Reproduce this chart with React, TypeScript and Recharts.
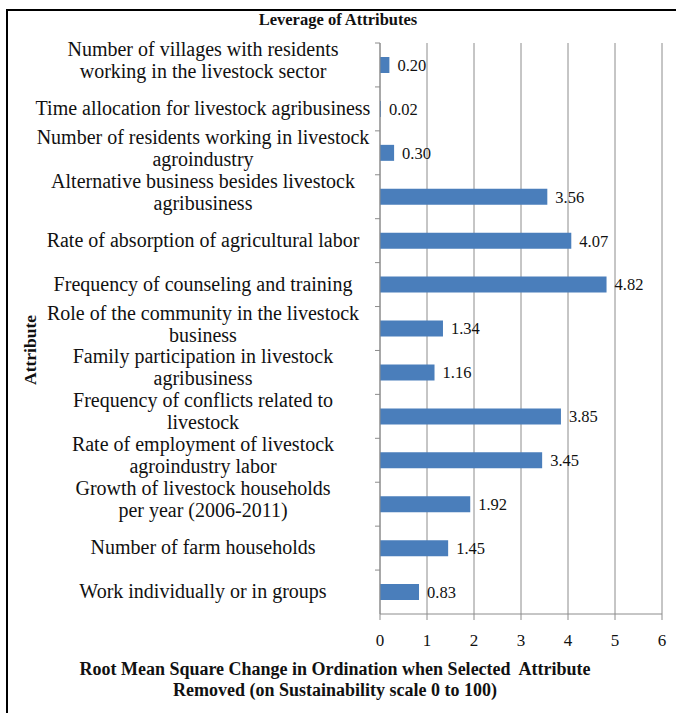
import { BarChart, Bar, XAxis, YAxis, CartesianGrid, LabelList } from "recharts";

// attribute names, "\n" marks where the original label wraps
const attributes = [
  "Number of villages with residents\nworking in the livestock sector",
  "Time allocation for livestock agribusiness",
  "Number of residents working in livestock\nagroindustry",
  "Alternative business besides livestock\nagribusiness",
  "Rate of absorption of agricultural labor",
  "Frequency of counseling and training",
  "Role of the community in the livestock\nbusiness",
  "Family participation in livestock\nagribusiness",
  "Frequency of conflicts related to\nlivestock",
  "Rate of employment of livestock\nagroindustry labor",
  "Growth of livestock households\nper year (2006-2011)",
  "Number of farm households",
  "Work individually or in groups",
];

const rmsChange = [0.2, 0.02, 0.3, 3.56, 4.07, 4.82, 1.34, 1.16, 3.85, 3.45, 1.92, 1.45, 0.83];

const xTicks = [0, 1, 2, 3, 4, 5, 6];

const data = attributes.map((name, i) => ({ name, value: rmsChange[i] }));

const SERIF = '"Liberation Serif", "Times New Roman", serif';
const GRID = "#8c8c8c";
const AXIS_X = 380;

function AttributeTick(props: any) {
  const { y, payload } = props;
  const lines: string[] = String(payload.value).split("\n");
  const half = payload.offset || 22;
  const lineH = 22;
  const startY = y - ((lines.length - 1) * lineH) / 2 + 6 - (lines.length > 1 ? 4 : 0);
  return (
    <g>
      <line x1={AXIS_X} x2={AXIS_X - 5} y1={y - half} y2={y - half} stroke={GRID} />
      <text
        x={203}
        y={startY}
        textAnchor="middle"
        style={{ fontFamily: SERIF, fontSize: 20, fill: "#111" }}
      >
        {lines.map((l, i) => (
          <tspan key={i} x={203} y={startY + i * lineH}>
            {l}
          </tspan>
        ))}
      </text>
    </g>
  );
}

export default function App() {
  return (
    <div
      style={{
        position: "absolute",
        left: 0,
        top: 0,
        width: 676,
        height: 713,
        background: "#fff",
        fontFamily: SERIF,
      }}
    >
      <div
        style={{
          position: "absolute",
          left: 6,
          top: 9,
          width: 670,
          height: 704,
          borderLeft: "2px solid #000",
          borderTop: "2px solid #000",
        }}
      />
      <div
        style={{
          position: "absolute",
          left: 0,
          width: 676,
          top: 10,
          textAlign: "center",
          fontWeight: "bold",
          fontSize: 16.5,
          color: "#111",
        }}
      >
        Leverage of Attributes
      </div>
      <div
        style={{
          position: "absolute",
          left: 30,
          top: 350,
          transform: "translate(-50%, -50%) rotate(-90deg)",
          fontWeight: "bold",
          fontSize: 17.5,
          color: "#111",
        }}
      >
        Attribute
      </div>
      <div
        style={{
          position: "absolute",
          left: 0,
          width: 670,
          top: 659,
          textAlign: "center",
          fontWeight: "bold",
          fontSize: 18,
          lineHeight: "21px",
          color: "#111",
          whiteSpace: "pre",
        }}
      >
        {"Root Mean Square Change in Ordination when Selected  Attribute\nRemoved (on Sustainability scale 0 to 100)"}
      </div>
      <div style={{ position: "absolute", left: 0, top: 0, fontFamily: SERIF }}>
        <BarChart
          width={676}
          height={713}
          data={data}
          layout="vertical"
          margin={{ top: 43, right: 14, bottom: 59, left: 0 }}
          style={{ fontFamily: SERIF }}
        >
          <CartesianGrid horizontal={false} stroke={GRID} />
          <XAxis
            type="number"
            domain={[0, 6]}
            ticks={xTicks}
            interval={0}
            stroke={GRID}
            tickSize={6}
            height={40}
            tick={{ fill: "#111", fontSize: 17, fontFamily: SERIF, dy: 12, style: { fontFamily: SERIF } }}
          />
          <YAxis
            type="category"
            dataKey="name"
            width={AXIS_X}
            stroke={GRID}
            tickLine={false}
            interval={0}
            tick={<AttributeTick />}
          />
          <Bar dataKey="value" fill="#4a7ebb" barSize={16} isAnimationActive={false}>
            <LabelList
              dataKey="value"
              position="right"
              offset={8}
              formatter={(v: any) => Number(v).toFixed(2)}
              style={{ fill: "#111", fontSize: 16.5, fontFamily: SERIF }}
            />
          </Bar>
        </BarChart>
      </div>
    </div>
  );
}
